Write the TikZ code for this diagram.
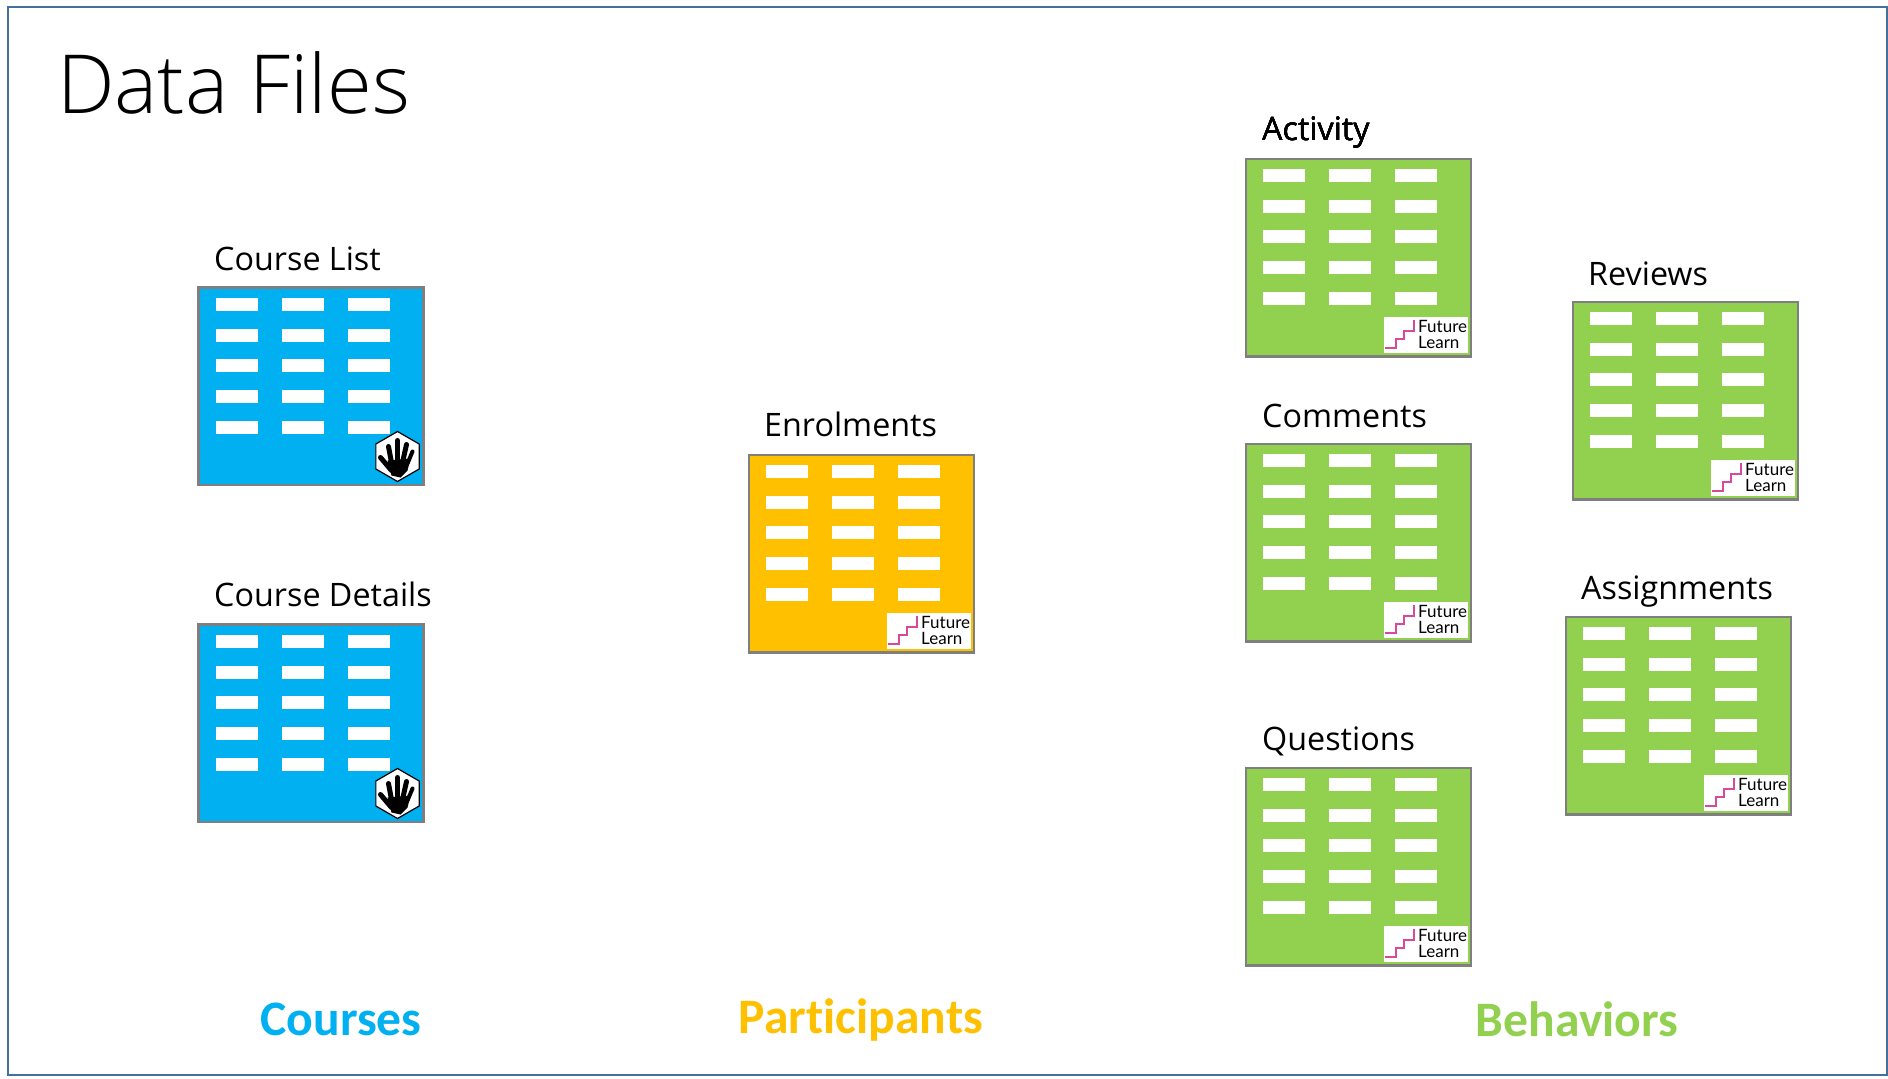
\documentclass[tikz,border=0pt]{standalone}
\usepackage{xcolor}
\usepackage{fontspec}
\usepackage{tikz}
\usetikzlibrary{shapes.geometric, positioning}

\setmainfont{Open Sans}
\newfontfamily\titlefont{Open Sans Light}
\newfontfamily\logofont{Lato}
\newfontfamily\groupfont[Ligatures=NoCommon]{Carlito}

\definecolor{courseblue}{HTML}{00B0F0}
\definecolor{partorange}{HTML}{FFC000}
\definecolor{behavgreen}{HTML}{92D050}
\definecolor{framelines}{HTML}{41719C}
\definecolor{cardlines}{HTML}{7F7F7F}
\definecolor{logopink}{HTML}{D8489B}

% one data file: name, x, y, colour
\newcommand{\datacard}[4]{
    \node (#1) [card, fill=#4] at (#2,#3) {};
    \begin{scope}[shift={(#1.north west)}]
        \foreach \cx in {17,83,149}
            \foreach \cy in {10,41,71,102,133}
                \fill [white] (\cx,\cy) rectangle ++(42,13);
    \end{scope}
}

% logo in the corner of a card
\newcommand{\futurelogo}[1]{
    \begin{scope}[shift={(#1.north west)}]
        \fill [white] (138,158) rectangle (222,194);
        \draw [logopink, line width=2.6pt] (139,189) -- (150,189) -- (150,180) -- (158,180) -- (158,172) -- (168,172) -- (168,161);
        \node (#1future) [logotext] at (172,173) {Future};
        \node (#1learn) [logotext] at (172,189) {Learn};
    \end{scope}
}

% black hand on the hexagon
\newcommand{\handbadge}[1]{
    \begin{scope}[shift={(#1.north west)}]
        \node (#1hex) [badge] at (199,169) {};
        \begin{scope}[shift={(199,169)}]
            \fill [black] (-10,4) -- (13,2) -- (10,14) -- (3,21) -- (-6,19) -- cycle;
            \draw [black, line width=5pt, line cap=round] (-6,14) -- (-17,1);
            \draw [black, line width=5pt, line cap=round] (-6,6) -- (-9,-10);
            \draw [black, line width=5pt, line cap=round] (0,6) -- (0,-16);
            \draw [black, line width=5pt, line cap=round] (5,6) -- (9,-12);
            \draw [black, line width=4pt, line cap=round] (10,7) -- (15,-5);
        \end{scope}
    \end{scope}
}

\begin{document}
\begin{tikzpicture}[x=1pt, y=-1pt]
    \tikzstyle{card} = [rectangle, anchor=north west, minimum width=225pt, minimum height=197.5pt, inner sep=0pt, outer sep=0pt, draw=cardlines, line width=2.5pt]
    \tikzstyle{badge} = [regular polygon, regular polygon sides=6, shape border rotate=30, minimum size=50pt, inner sep=0pt, fill=white, draw=black, line width=1.2pt]
    \tikzstyle{filelabel} = [anchor=base west, inner sep=0pt, font=\fontsize{32.3}{33}\selectfont]
    \tikzstyle{logotext} = [anchor=base west, inner sep=0pt, font=\logofont\fontsize{17}{17}\selectfont]
    \tikzstyle{group} = [anchor=base, inner sep=0pt, font=\groupfont\bfseries\fontsize{49.6}{50}\selectfont]

    \useasboundingbox (0,0) rectangle (1888,1079);
    \node (frame) [rectangle, anchor=north west, minimum width=1879pt, minimum height=1068pt, inner sep=0pt, outer sep=0pt, draw=framelines, line width=2.5pt] at (8,7) {};

    \node (title) [anchor=base west, inner sep=0pt, font=\titlefont\fontsize{81.5}{82}\selectfont] at (57,113) {Data Files};

    % courses
    \datacard{courselist}{198.5}{287.5}{courseblue}
    \datacard{coursedetails}{198.5}{624.5}{courseblue}
    \handbadge{courselist}
    \handbadge{coursedetails}
    \node (courselistlabel) [filelabel] at (214,270) {Course List};
    \node (coursedetailslabel) [filelabel] at (214,606) {Course Details};

    % participants
    \datacard{enrolments}{749}{455}{partorange}
    \futurelogo{enrolments}
    \node (enrolmentslabel) [filelabel] at (764,436.5) {Enrolments};

    % behaviors
    \datacard{activity}{1246}{159}{behavgreen}
    \datacard{comments}{1246}{444}{behavgreen}
    \datacard{questions}{1246}{768}{behavgreen}
    \datacard{reviews}{1573}{302}{behavgreen}
    \datacard{assignments}{1566}{617}{behavgreen}
    \foreach \cardname in {activity,comments,questions,reviews,assignments}
        \futurelogo{\cardname}
    \node (activitylabel) [filelabel] at (1262,140.5) {Activity};
    \node (commentslabel) [filelabel] at (1262,427) {Comments};
    \node (questionslabel) [filelabel] at (1262,750) {Questions};
    \node (reviewslabel) [filelabel] at (1588,285) {Reviews};
    \node (assignmentslabel) [filelabel] at (1581,599) {Assignments};

    % group names
    \node (courses) [group, text=courseblue] at (341,1035) {Courses};
    \node (participants) [group, text=partorange] at (861,1033) {Participants};
    \node (behaviors) [group, text=behavgreen] at (1577,1036) {Behaviors};
\end{tikzpicture}
\end{document}
